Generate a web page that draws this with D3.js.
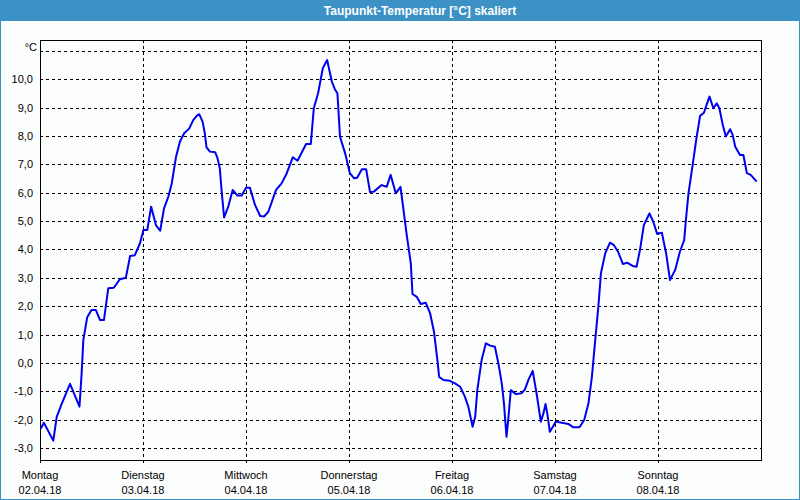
<!DOCTYPE html>
<html>
<head>
<meta charset="utf-8">
<script src="https://cdn.jsdelivr.net/npm/d3@7"></script>
<style>
  html, body { margin: 0; padding: 0; background: #fcfdfd; }
  svg { display: block; }
  text { font-family: Tahoma, "Liberation Sans", Arial, sans-serif; }
</style>
</head>
<body>
<svg id="chart" width="800" height="500"></svg>
<script>
// ---- data ----
const title = "Taupunkt-Temperatur [°C] skaliert";
const unitLabel = "°C";
const dayNames = ["Montag", "Dienstag", "Mittwoch", "Donnerstag", "Freitag", "Samstag", "Sonntag"];
const dayDates = ["02.04.18", "03.04.18", "04.04.18", "05.04.18", "06.04.18", "07.04.18", "08.04.18"];
const yTicks = [-3, -2, -1, 0, 1, 2, 3, 4, 5, 6, 7, 8, 9, 10, 11];
// hours since Monday 00:00
const hours = [0.2,0.9,3.1,3.9,5.1,7.0,9.2,9.7,10.1,11.0,12.0,13.0,14.0,14.9,15.9,17.2,18.6,20.0,21.0,22.1,23.3,24.1,25.0,25.9,27.0,28.0,
  28.9,29.9,30.7,31.7,32.6,33.6,34.8,35.7,36.5,37.1,37.9,38.4,38.8,39.6,40.8,41.3,41.9,42.3,42.9,43.9,44.9,46.0,47.0,48.0,48.9,50.1,51.3,52.2,53.2,
  55.0,56.3,57.5,58.9,60.0,60.7,62.0,63.1,63.8,64.8,65.9,66.9,68.0,68.7,69.3,69.9,71.1,72.2,73.2,73.9,75.0,76.0,76.9,77.8,79.6,80.8,81.7,82.9,84.0,
  84.5,85.4,86.4,86.8,87.8,88.7,89.9,90.9,91.8,92.6,93.0,94.0,95.5,96.7,97.9,99.0,99.8,100.8,101.4,101.9,102.9,103.9,104.9,106.0,106.8,107.6,108.1,
  108.7,109.1,109.7,110.9,112.2,113.0,113.8,114.8,115.7,116.7,117.3,117.8,118.2,118.8,119.5,120.2,121.6,123.1,124.3,125.7,126.8,127.8,128.6,129.3,
  130.1,130.7,131.7,132.8,133.7,134.7,135.8,136.9,138.1,139.0,139.8,140.7,142.0,142.9,143.8,144.9,145.9,146.8,148.0,149.1,150.1,150.5,151.1,151.9,
  152.9,153.8,154.7,155.3,156.0,156.9,157.7,158.3,159.1,159.8,160.8,161.4,162.0,163.1,163.9,164.7,165.6,167.0];
const dewpoint = [-2.31,-2.11,-2.74,-1.90,-1.43,-0.74,-1.54,-0.37,0.81,1.61,1.87,1.87,1.51,1.51,2.63,2.65,2.95,3.00,3.77,3.80,4.22,4.69,4.69,5.51,4.86,4.66,
  5.45,5.86,6.33,7.27,7.80,8.10,8.27,8.56,8.71,8.77,8.50,8.10,7.60,7.45,7.43,7.25,6.86,6.10,5.13,5.53,6.10,5.90,5.90,6.18,6.18,5.57,5.18,5.16,5.33,
  6.10,6.33,6.69,7.25,7.13,7.33,7.72,7.72,8.98,9.51,10.39,10.68,9.92,9.65,9.51,7.98,7.39,6.69,6.51,6.53,6.83,6.83,6.02,6.04,6.27,6.21,6.63,5.98,6.21,
  5.63,4.57,3.51,2.43,2.33,2.08,2.12,1.75,1.10,0.10,-0.49,-0.60,-0.63,-0.72,-0.84,-1.19,-1.54,-2.25,-1.90,-0.96,0.10,0.69,0.61,0.57,-0.01,-0.72,-1.42,
  -2.60,-2.01,-0.96,-1.10,-1.07,-0.93,-0.60,-0.28,-1.07,-2.07,-1.78,-1.45,-1.78,-2.43,-2.25,-2.07,-2.11,-2.15,-2.27,-2.27,-2.01,-1.42,-0.49,0.69,
  1.98,3.16,3.86,4.24,4.16,3.92,3.49,3.53,3.42,3.39,3.98,4.86,5.27,4.98,4.55,4.59,3.86,2.92,3.28,3.92,4.33,5.04,5.98,6.80,
  7.86,8.71,8.82,9.09,9.39,8.98,9.15,8.98,8.39,7.98,8.24,8.04,7.62,7.33,7.33,6.69,6.63,6.39];

// ---- layout ----
const W = 800, H = 500;
const pLeft = 40, pRight = 761, pTop = 40, pBottom = 460;
const svg = d3.select("#chart");

const x = d3.scaleLinear().domain([0, 168]).range([pLeft, pRight]);
const y = d3.scaleLinear().domain([-3.423, 11.386]).range([pBottom, pTop]);
const cx = v => Math.round(x(v)) + 0.5;
const cy = v => Math.round(y(v)) + 0.5;

// background + border
svg.append("rect").attr("x", 0).attr("y", 0).attr("width", W).attr("height", H).attr("fill", "#fcfdfd");
svg.append("rect").attr("x", 0).attr("y", 0).attr("width", W).attr("height", 21).attr("fill", "#3c91c5");
svg.append("rect").attr("x", 0.5).attr("y", 0.5).attr("width", W - 1).attr("height", H - 1)
  .attr("fill", "none").attr("stroke", "#3c91c5").attr("stroke-width", 1);

svg.append("text").attr("x", 420).attr("y", 15).attr("text-anchor", "middle")
  .attr("fill", "#ffffff").attr("font-weight", "bold").attr("font-size", "12px").text(title);

// horizontal grid
svg.append("g").selectAll("line").data(yTicks).join("line")
  .attr("x1", pLeft).attr("x2", pRight)
  .attr("y1", d => cy(d)).attr("y2", d => cy(d))
  .attr("stroke", "#000").attr("stroke-width", 1).attr("stroke-dasharray", "3,3")
  .attr("shape-rendering", "crispEdges");

// vertical grid (days)
const dayIdx = d3.range(dayNames.length);
svg.append("g").selectAll("line").data(dayIdx.slice(1)).join("line")
  .attr("x1", d => cx(d * 24)).attr("x2", d => cx(d * 24))
  .attr("y1", pTop).attr("y2", pBottom + 3)
  .attr("stroke", "#000").attr("stroke-width", 1).attr("stroke-dasharray", "3,3")
  .attr("shape-rendering", "crispEdges");

// frame
const frame = svg.append("g").attr("stroke", "#000").attr("stroke-width", 1).attr("shape-rendering", "crispEdges");
frame.append("line").attr("x1", pLeft + 0.5).attr("x2", pLeft + 0.5).attr("y1", pTop).attr("y2", pBottom + 3);
frame.append("line").attr("x1", pLeft).attr("x2", pRight + 1).attr("y1", pTop + 0.5).attr("y2", pTop + 0.5);
frame.append("line").attr("x1", pLeft).attr("x2", pRight + 1).attr("y1", pBottom + 0.5).attr("y2", pBottom + 0.5);
frame.append("line").attr("x1", pRight + 0.5).attr("x2", pRight + 0.5).attr("y1", pTop).attr("y2", pBottom + 1);

// y labels
svg.append("g").selectAll("text").data(yTicks.filter(d => d <= 10)).join("text")
  .attr("x", 33).attr("y", d => y(d) + 4).attr("text-anchor", "end")
  .attr("font-size", "11px").attr("fill", "#000")
  .text(d => d3.format(".1f")(d).replace(".", ",").replace("−", "-"));
svg.append("text").attr("x", 37).attr("y", 51).attr("text-anchor", "end")
  .attr("font-size", "11px").attr("fill", "#000").text(unitLabel);

// x labels
const xl = svg.append("g").attr("font-size", "11px").attr("fill", "#000").attr("text-anchor", "middle");
xl.selectAll("text.day").data(dayIdx).join("text").attr("class", "day")
  .attr("x", d => x(d * 24)).attr("y", 479).text(d => dayNames[d]);
xl.selectAll("text.date").data(dayIdx).join("text").attr("class", "date")
  .attr("x", d => x(d * 24)).attr("y", 494).text(d => dayDates[d]);

// line
const pts = hours.map((h, i) => [h, dewpoint[i]]);
svg.append("path").datum(pts)
  .attr("fill", "none").attr("stroke", "#0000f0").attr("stroke-width", 2)
  .attr("stroke-linejoin", "round")
  .attr("d", d3.line().x(d => x(d[0])).y(d => y(d[1])));
</script>
</body>
</html>
